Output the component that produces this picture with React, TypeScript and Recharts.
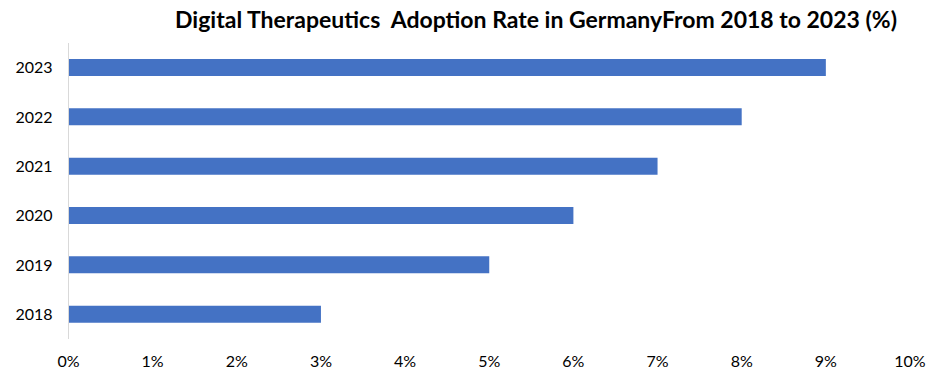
import { Bar, BarChart, XAxis, YAxis } from "recharts";

const years = ["2023", "2022", "2021", "2020", "2019", "2018"];
const adoptionRate = [9, 8, 7, 6, 5, 3];
const xTicks = [0, 1, 2, 3, 4, 5, 6, 7, 8, 9, 10];

const data = years.map((year, i) => ({ year, rate: adoptionRate[i] }));

const font = "Lato, 'Open Sans', sans-serif";

export default function App() {
  return (
    <div style={{ position: "absolute", left: 0, top: 0, width: 949, height: 388, background: "#fff" }}>
      <div
        style={{
          position: "absolute",
          left: 0,
          width: 1072,
          top: 4,
          lineHeight: "30px",
          textAlign: "center",
          fontFamily: font,
          fontWeight: 700,
          fontSize: 23,
          color: "#000",
          whiteSpace: "pre",
        }}
      >
        Digital Therapeutics  Adoption Rate in GermanyFrom 2018 to 2023 (%)
      </div>
      <BarChart
        width={949}
        height={388}
        data={data}
        layout="vertical"
        margin={{ top: 43, right: 39, bottom: 0, left: 0 }}
      >
        <XAxis
          type="number"
          domain={[0, 10]}
          ticks={xTicks}
          interval={0}
          tickFormatter={(v: number) => `${v}%`}
          axisLine={false}
          tickLine={false}
          tickSize={0}
          tickMargin={17}
          height={49}
          tick={{ fill: "#000", fontSize: 16, fontFamily: font }}
        />
        <YAxis
          type="category"
          dataKey="year"
          width={68.5}
          axisLine={{ stroke: "#d9d9d9" }}
          tickLine={false}
          tickSize={0}
          tickMargin={16}
          tick={{ fill: "#000", fontSize: 16, fontFamily: font }}
        />
        <Bar dataKey="rate" fill="#4472c4" barSize={17} isAnimationActive={false} />
      </BarChart>
    </div>
  );
}
